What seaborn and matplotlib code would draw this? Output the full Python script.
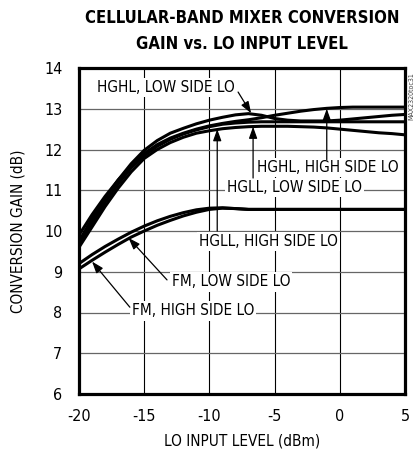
import matplotlib
matplotlib.use("Agg")
import matplotlib.pyplot as plt
import seaborn as sns
import pandas as pd

# ---- data ----
lo_dbm = [-20, -19, -18, -17, -16, -15, -14, -13, -12, -11, -10, -9, -8, -7, -6,
          -5, -4, -3, -2, -1, 0, 1, 2, 3, 4, 5]
hghl_low = [9.75, 10.3, 10.8, 11.25, 11.65, 11.98, 12.22, 12.4, 12.52, 12.63, 12.72, 12.79,
            12.85, 12.88, 12.84, 12.76, 12.72, 12.7, 12.7, 12.7, 12.72, 12.75, 12.78, 12.81,
            12.84, 12.86]
hghl_high = [9.9, 10.4, 10.85, 11.25, 11.6, 11.9, 12.12, 12.28, 12.4, 12.5, 12.58, 12.64,
             12.69, 12.73, 12.78, 12.84, 12.89, 12.94, 12.98, 13.01, 13.03, 13.04, 13.04,
             13.04, 13.04, 13.04]
hgll_high = [9.65, 10.2, 10.7, 11.15, 11.55, 11.85, 12.08, 12.25, 12.38, 12.48, 12.56, 12.62,
             12.65, 12.67, 12.68, 12.68, 12.68, 12.68, 12.68, 12.68, 12.68, 12.68, 12.68,
             12.68, 12.68, 12.68]
hgll_low = [9.6, 10.1, 10.6, 11.05, 11.45, 11.78, 12.0, 12.17, 12.3, 12.4, 12.46, 12.51,
            12.54, 12.56, 12.57, 12.57, 12.57, 12.56, 12.55, 12.53, 12.5, 12.47, 12.44,
            12.41, 12.39, 12.36]
fm_low = [9.2, 9.42, 9.62, 9.8, 9.97, 10.12, 10.25, 10.36, 10.45, 10.52, 10.56, 10.57,
          10.55, 10.53, 10.53, 10.53, 10.53, 10.53, 10.53, 10.53, 10.53, 10.53, 10.53,
          10.53, 10.53, 10.53]
fm_high = [9.07, 9.28, 9.48, 9.67, 9.85, 10.0, 10.14, 10.26, 10.37, 10.46, 10.53, 10.56,
           10.55, 10.53, 10.53, 10.53, 10.53, 10.53, 10.53, 10.53, 10.53, 10.53, 10.53,
           10.53, 10.53, 10.53]

x_ticks = [-20, -15, -10, -5, 0, 5]
y_ticks = [6, 7, 8, 9, 10, 11, 12, 13, 14]

title = "CELLULAR-BAND MIXER CONVERSION\nGAIN vs. LO INPUT LEVEL"
x_label = "LO INPUT LEVEL (dBm)"
y_label = "CONVERSION GAIN (dB)"

series = {
    "HGHL, LOW SIDE LO": hghl_low,
    "HGHL, HIGH SIDE LO": hghl_high,
    "HGLL, LOW SIDE LO": hgll_low,
    "HGLL, HIGH SIDE LO": hgll_high,
    "FM, LOW SIDE LO": fm_low,
    "FM, HIGH SIDE LO": fm_high,
}

# ---- plotting ----
sns.set_style("white")
plt.rcParams["font.family"] = ["DejaVu Sans"]
plt.rcParams["font.stretch"] = "condensed"
plt.rcParams["text.color"] = "black"
plt.rcParams["axes.labelcolor"] = "black"
plt.rcParams["xtick.color"] = "black"
plt.rcParams["ytick.color"] = "black"

fig = plt.figure(figsize=(4.17, 4.55), dpi=100)
ax = fig.add_axes([79 / 417, 1 - 394 / 455, 326 / 417, 326 / 455])

df = pd.DataFrame([(name, x, y) for name, ys in series.items() for x, y in zip(lo_dbm, ys)],
                  columns=["curve", "lo", "gain"])
for name in series:
    sub = df[df["curve"] == name]
    sns.lineplot(data=sub, x="lo", y="gain", ax=ax, color="black", lw=2.2,
                 legend=False, zorder=3)

ax.set_xlim(-20, 5)
ax.set_ylim(6, 14)
ax.set_xticks(x_ticks)
ax.set_yticks(y_ticks)
ax.set_xticklabels([str(v) for v in x_ticks], fontsize=11.5)
ax.set_yticklabels([str(v) for v in y_ticks], fontsize=11.5)
ax.tick_params(axis="x", length=0, pad=11)
ax.tick_params(axis="y", length=0, pad=12)
for v in x_ticks[1:-1]:
    ax.axvline(v, color="black", lw=0.8, zorder=1)
for v in y_ticks[1:-1]:
    ax.axhline(v, color="#666666", lw=0.9, zorder=1)
for s in ax.spines.values():
    s.set_visible(True)
    s.set_color("black")
    s.set_linewidth(2.3)
ax.set_xlabel(x_label, fontsize=11, labelpad=7)
ax.set_ylabel(y_label, fontsize=11, labelpad=13)

fig.text(242 / 417, 1 - 31 / 455, title, ha="center", va="center", fontsize=12,
         fontweight="bold", linespacing=1.55)

box = dict(facecolor="white", edgecolor="none", pad=1.5)
texts = [
    ("HGHL, LOW SIDE LO", -13.3, 13.53),
    ("HGHL, HIGH SIDE LO", -0.9, 11.55),
    ("HGLL, LOW SIDE LO", -3.5, 11.06),
    ("HGLL, HIGH SIDE LO", -5.5, 9.75),
    ("FM, LOW SIDE LO", -8.35, 8.75),
    ("FM, HIGH SIDE LO", -11.25, 8.04),
]
for t, tx, ty in texts:
    ax.text(tx, ty, t, ha="center", va="center", fontsize=11, bbox=box, zorder=2)

arrows = [
    ((-7.8, 13.41), (-6.8, 12.89)),
    ((-1.0, 11.75), (-1.0, 13.0)),
    ((-6.65, 11.3), (-6.65, 12.56)),
    ((-9.4, 10.0), (-9.4, 12.5)),
    ((-13.25, 8.8), (-16.2, 9.83)),
    ((-16.1, 8.13), (-19.0, 9.25)),
]
for (sx, sy), (tx, ty) in arrows:
    ax.annotate("", xy=(tx, ty), xytext=(sx, sy),
                arrowprops=dict(arrowstyle="-|>,head_length=0.7,head_width=0.25",
                                color="black", lw=0.9, shrinkA=0, shrinkB=0),
                zorder=4)

fig.text(411 / 417, 1 - 96 / 455, "MAX2320toc31", rotation=90, ha="center", va="center",
         fontsize=5, color="#444444")

fig.savefig("out.png", dpi=100)
